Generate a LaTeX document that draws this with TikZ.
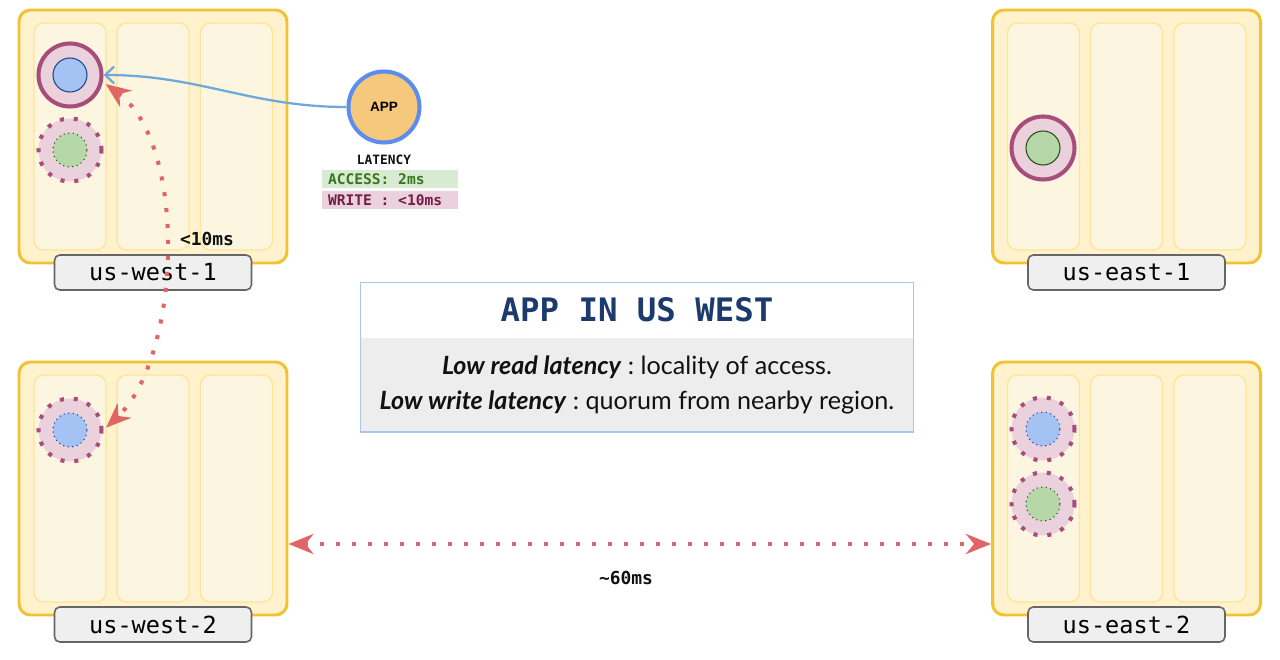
\documentclass[tikz,border=0pt]{standalone}
\usepackage{fontspec}
\setmainfont{Lato}
\newfontfamily\monofont{DejaVu Sans Mono}
\newfontfamily\appfont{Liberation Sans}
\usepackage{tikz}
\usetikzlibrary{arrows.meta,positioning,fit,calc}
\frenchspacing
\definecolor{ink}{HTML}{111111}
\definecolor{regionfill}{HTML}{FFF2CC}
\definecolor{regionline}{HTML}{F1C232}
\definecolor{zonefill}{HTML}{FCF6E1}
\definecolor{zoneline}{HTML}{FFE599}
\definecolor{tagfill}{HTML}{EFEFEF}
\definecolor{tagline}{HTML}{666666}
\definecolor{ringfill}{HTML}{EAD1DC}
\definecolor{ringline}{HTML}{A64D79}
\definecolor{softblue}{HTML}{A4C2F4}
\definecolor{deepblue}{HTML}{1C4587}
\definecolor{softgreen}{HTML}{B6D7A8}
\definecolor{deepgreen}{HTML}{274E13}
\definecolor{appfill}{HTML}{F6C87C}
\definecolor{appline}{HTML}{5B8DEF}
\definecolor{readline}{HTML}{6FA8DC}
\definecolor{netred}{HTML}{E06666}
\definecolor{panelline}{HTML}{A9C8EE}
\definecolor{panelgray}{HTML}{EDEDED}
\definecolor{paneltitle}{HTML}{1C3A6B}
\definecolor{accessfill}{HTML}{D9EAD3}
\definecolor{accesstext}{HTML}{38761D}
\definecolor{writefill}{HTML}{EAD1DC}
\definecolor{writetext}{HTML}{741B47}

\begin{document}
\begin{tikzpicture}[
  region/.style={rounded corners=6.5pt, draw=regionline, line width=1.7pt, fill=regionfill, minimum width=5.36cm, minimum height=5.06cm, inner sep=0pt},
  zone/.style={rounded corners=5.5pt, draw=zoneline, line width=0.8pt, fill=zonefill, minimum width=1.44cm, minimum height=4.54cm, inner sep=0pt},
  tag/.style={rounded corners=3pt, draw=tagline, line width=0.9pt, fill=tagfill, minimum width=3.94cm, minimum height=0.7cm, inner sep=0pt, font=\monofont\fontsize{13.4}{15}\selectfont},
  leader/.style={circle, draw=ringline, line width=2.3pt, fill=ringfill, minimum size=1.26cm, inner sep=0pt},
  follower/.style={leader, dash pattern=on 2.3pt off 5.6pt},
  core/.style={circle, minimum size=0.68cm, inner sep=0pt, line width=0.6pt},
  bluecore/.style={core, fill=softblue, draw=deepblue},
  greencore/.style={core, fill=softgreen, draw=deepgreen},
  lat/.style={font=\monofont\bfseries\fontsize{8.3}{10}\selectfont, text width=2.48cm, align=justify, inner xsep=0.12cm, inner ysep=0pt, minimum height=0.35cm},
  readarrow/.style={-{Straight Barb[length=1.8mm, width=3.4mm]}, draw=readline, line width=1.3pt},
  latency/.style={{Stealth[length=5mm, width=4mm, inset=1.6mm]}-{Stealth[length=5mm, width=4mm, inset=1.6mm]}, draw=netred, line width=2.3pt, dash pattern=on 2.3pt off 6.8pt},
  ms/.style={font=\monofont\bfseries\fontsize{10.2}{12}\selectfont, text=ink}
]
\path[use as bounding box, fill=white] (0,0) rectangle (25.6,-13.2);

% regions with three zones each
\foreach \name/\x/\y/\txt in {w1/3.06/-2.73/us-west-1, w2/3.06/-9.77/us-west-2, e1/22.53/-2.73/us-east-1, e2/22.53/-9.77/us-east-2}{
  \node[region] (\name) at (\x,\y) {};
  \node[zone] (\name-z1) at ([xshift=-1.66cm]\name.center) {};
  \node[zone] (\name-z2) at (\name.center) {};
  \node[zone] (\name-z3) at ([xshift=1.67cm]\name.center) {};
  \node[tag] (\name-tag) at ([yshift=-2.72cm]\name.center) {\txt};
}

% replicas
\node[leader] (w1-r1) at (1.40,-1.50) {};
\node[bluecore] (w1-c1) at (w1-r1) {};
\node[follower] (w1-r2) at (1.40,-3.00) {};
\node[greencore, dotted] (w1-c2) at (w1-r2) {};
\node[follower] (w2-r1) at (1.40,-8.60) {};
\node[bluecore, dotted] (w2-c1) at (w2-r1) {};
\node[leader] (e1-r1) at (20.86,-2.96) {};
\node[greencore] (e1-c1) at (e1-r1) {};
\node[follower] (e2-r1) at (20.86,-8.58) {};
\node[bluecore, dotted] (e2-c1) at (e2-r1) {};
\node[follower] (e2-r2) at (20.86,-10.08) {};
\node[greencore, dotted] (e2-c2) at (e2-r2) {};

% app and its latency
\node[circle, draw=appline, line width=2.3pt, fill=appfill, minimum size=1.42cm, inner sep=0pt, font=\appfont\bfseries\fontsize{7.7}{9}\selectfont] (app) at (7.68,-2.14) {APP};
\node[font=\monofont\bfseries\fontsize{7.3}{9}\selectfont, text=ink] (latency) at (7.68,-3.20) {LATENCY};
\node[lat, fill=accessfill, text=accesstext] (access) at (7.80,-3.58) {ACCESS: 2ms};
\node[lat, fill=writefill, text=writetext, below=0.06cm of access] (write) {WRITE : <10ms};

% connectors
\draw[readarrow] (app.west) to[out=180, in=0] (w1-r1.east);
\draw[latency, shorten <=2pt, shorten >=2pt] (w1-r1.-12) .. controls +(-36:2.12) and +(43:2.12) .. (w2-r1.0);
\draw[latency] ([yshift=-1.11cm]w2.east) -- ([yshift=-1.11cm]e2.west);
\node[ms] (near) at (4.14,-4.78) {<10ms};
\node[ms] (far) at (12.52,-11.56) {\textasciitilde60ms};

% summary panel
\node[fill=white, minimum width=11.04cm, minimum height=1.08cm, inner sep=0pt, text=paneltitle, font=\monofont\bfseries\fontsize{18.4}{22}\selectfont] (title) at (12.74,-6.20) {APP IN US WEST};
\node[fill=panelgray, minimum width=11.04cm, minimum height=1.88cm, inner sep=0pt, align=center, text=ink, font=\fontsize{14.3}{19.8}\selectfont, below=0pt of title] (body)
{\textbf{\textit{Low read latency}} : locality of access.\\\textbf{\textit{Low write latency}} : quorum from nearby region.};
\node[fit=(title)(body), draw=panelline, line width=0.8pt, inner sep=0pt] (panel) {};

\end{tikzpicture}
\end{document}
